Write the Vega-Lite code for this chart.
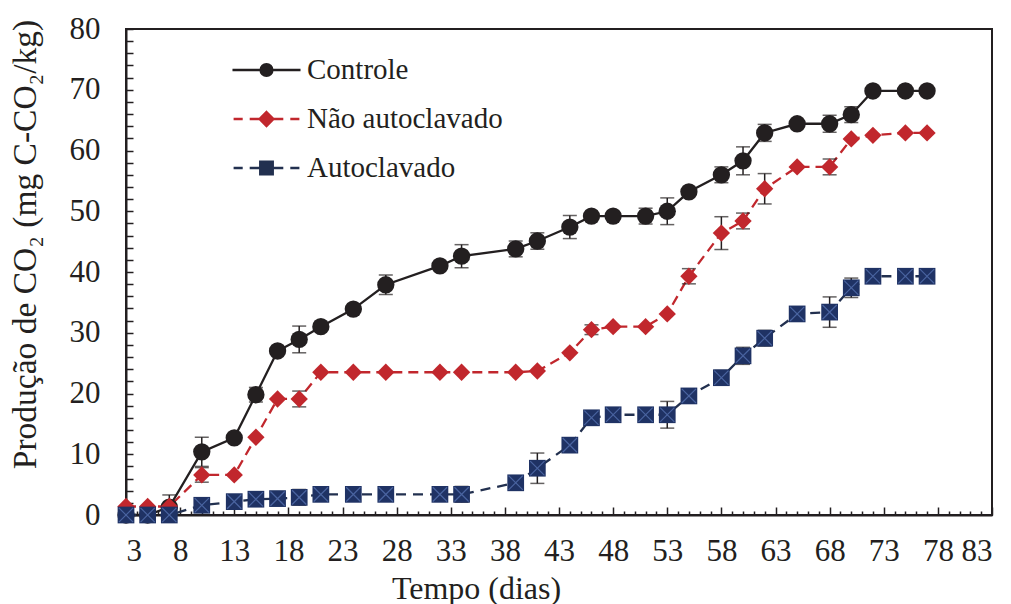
{
  "$schema": "https://vega.github.io/schema/vega-lite/v6.json",
  "autosize": "none",
  "width": 866,
  "height": 486,
  "padding": {"left": 126, "top": 29, "right": 18, "bottom": 89},
  "background": "white",
  "config": {
    "view": {"stroke": "#231f20", "strokeWidth": 2},
    "font": "Liberation Serif",
    "legend": {"labelFont": "Liberation Serif", "labelColor": "#231f20", "padding": 0},
    "axis": {
      "domainColor": "#231f20", "domainWidth": 2,
      "tickColor": "#231f20", "tickWidth": 1.5,
      "grid": false,
      "labelFont": "Liberation Serif", "labelFontSize": 31, "labelColor": "#231f20",
      "titleFont": "Liberation Serif", "titleFontSize": 32, "titleColor": "#231f20", "titleFontWeight": "normal",
      "labelOverlap": false
    }
  },
  "data": {"values": [
    {"series": "Controle", "day": 3, "value": 0},
    {"series": "Controle", "day": 5, "value": 0},
    {"series": "Controle", "day": 7, "value": 1.3, "err": 2.0},
    {"series": "Controle", "day": 10, "value": 10.4, "err": 2.4},
    {"series": "Controle", "day": 13, "value": 12.7},
    {"series": "Controle", "day": 15, "value": 19.8, "err": 1.2},
    {"series": "Controle", "day": 17, "value": 27.0},
    {"series": "Controle", "day": 19, "value": 28.9, "err": 2.2},
    {"series": "Controle", "day": 21, "value": 31.0},
    {"series": "Controle", "day": 24, "value": 33.9},
    {"series": "Controle", "day": 27, "value": 37.9, "err": 1.6},
    {"series": "Controle", "day": 32, "value": 41.0},
    {"series": "Controle", "day": 34, "value": 42.6, "err": 1.9},
    {"series": "Controle", "day": 39, "value": 43.8, "err": 1.3},
    {"series": "Controle", "day": 41, "value": 45.1, "err": 1.35},
    {"series": "Controle", "day": 44, "value": 47.4, "err": 1.9},
    {"series": "Controle", "day": 46, "value": 49.2},
    {"series": "Controle", "day": 48, "value": 49.2},
    {"series": "Controle", "day": 51, "value": 49.2, "err": 1.3},
    {"series": "Controle", "day": 53, "value": 50.0, "err": 2.2},
    {"series": "Controle", "day": 55, "value": 53.2},
    {"series": "Controle", "day": 58, "value": 56.0, "err": 1.3},
    {"series": "Controle", "day": 60, "value": 58.3, "err": 2.3},
    {"series": "Controle", "day": 62, "value": 62.9, "err": 1.4},
    {"series": "Controle", "day": 65, "value": 64.4},
    {"series": "Controle", "day": 68, "value": 64.4, "err": 1.4},
    {"series": "Controle", "day": 70, "value": 65.9, "err": 1.3},
    {"series": "Controle", "day": 72, "value": 69.8},
    {"series": "Controle", "day": 75, "value": 69.8},
    {"series": "Controle", "day": 77, "value": 69.8},
    {"series": "Não autoclavado", "day": 3, "value": 1.4},
    {"series": "Não autoclavado", "day": 5, "value": 1.4},
    {"series": "Não autoclavado", "day": 7, "value": 1.4},
    {"series": "Não autoclavado", "day": 10, "value": 6.6, "err": 1.2},
    {"series": "Não autoclavado", "day": 13, "value": 6.6},
    {"series": "Não autoclavado", "day": 15, "value": 12.8},
    {"series": "Não autoclavado", "day": 17, "value": 19.1},
    {"series": "Não autoclavado", "day": 19, "value": 19.1, "err": 1.3},
    {"series": "Não autoclavado", "day": 21, "value": 23.5},
    {"series": "Não autoclavado", "day": 24, "value": 23.5},
    {"series": "Não autoclavado", "day": 27, "value": 23.5},
    {"series": "Não autoclavado", "day": 32, "value": 23.5},
    {"series": "Não autoclavado", "day": 34, "value": 23.5},
    {"series": "Não autoclavado", "day": 39, "value": 23.5},
    {"series": "Não autoclavado", "day": 41, "value": 23.7},
    {"series": "Não autoclavado", "day": 44, "value": 26.7},
    {"series": "Não autoclavado", "day": 46, "value": 30.5, "err": 0.8},
    {"series": "Não autoclavado", "day": 48, "value": 31.0},
    {"series": "Não autoclavado", "day": 51, "value": 31.0},
    {"series": "Não autoclavado", "day": 53, "value": 33.1},
    {"series": "Não autoclavado", "day": 55, "value": 39.3, "err": 1.25},
    {"series": "Não autoclavado", "day": 58, "value": 46.4, "err": 2.7},
    {"series": "Não autoclavado", "day": 60, "value": 48.4, "err": 1.3},
    {"series": "Não autoclavado", "day": 62, "value": 53.7, "err": 2.5},
    {"series": "Não autoclavado", "day": 65, "value": 57.3},
    {"series": "Não autoclavado", "day": 68, "value": 57.3, "err": 1.3},
    {"series": "Não autoclavado", "day": 70, "value": 61.9},
    {"series": "Não autoclavado", "day": 72, "value": 62.5},
    {"series": "Não autoclavado", "day": 75, "value": 62.9},
    {"series": "Não autoclavado", "day": 77, "value": 62.9},
    {"series": "Autoclavado", "day": 3, "value": 0},
    {"series": "Autoclavado", "day": 5, "value": 0},
    {"series": "Autoclavado", "day": 7, "value": 0},
    {"series": "Autoclavado", "day": 10, "value": 1.6},
    {"series": "Autoclavado", "day": 13, "value": 2.2, "err": 1.0},
    {"series": "Autoclavado", "day": 15, "value": 2.6},
    {"series": "Autoclavado", "day": 17, "value": 2.7},
    {"series": "Autoclavado", "day": 19, "value": 2.9, "err": 1.3},
    {"series": "Autoclavado", "day": 21, "value": 3.4},
    {"series": "Autoclavado", "day": 24, "value": 3.4},
    {"series": "Autoclavado", "day": 27, "value": 3.4},
    {"series": "Autoclavado", "day": 32, "value": 3.4},
    {"series": "Autoclavado", "day": 34, "value": 3.4, "err": 1.3},
    {"series": "Autoclavado", "day": 39, "value": 5.3},
    {"series": "Autoclavado", "day": 41, "value": 7.7, "err": 2.5},
    {"series": "Autoclavado", "day": 44, "value": 11.5, "err": 1.0},
    {"series": "Autoclavado", "day": 46, "value": 16.0},
    {"series": "Autoclavado", "day": 48, "value": 16.5},
    {"series": "Autoclavado", "day": 51, "value": 16.5},
    {"series": "Autoclavado", "day": 53, "value": 16.5, "err": 2.2},
    {"series": "Autoclavado", "day": 55, "value": 19.6},
    {"series": "Autoclavado", "day": 58, "value": 22.6, "err": 1.2},
    {"series": "Autoclavado", "day": 60, "value": 26.2, "err": 1.4},
    {"series": "Autoclavado", "day": 62, "value": 29.1, "err": 1.3},
    {"series": "Autoclavado", "day": 65, "value": 33.1},
    {"series": "Autoclavado", "day": 68, "value": 33.4, "err": 2.5},
    {"series": "Autoclavado", "day": 70, "value": 37.4, "err": 1.6},
    {"series": "Autoclavado", "day": 72, "value": 39.3},
    {"series": "Autoclavado", "day": 75, "value": 39.3},
    {"series": "Autoclavado", "day": 77, "value": 39.3}
  ]},
  "encoding": {
    "x": {
      "field": "day", "type": "quantitative",
      "scale": {"domain": [3, 83], "nice": false, "zero": false},
      "axis": {
        "title": "Tempo (dias)",
        "values": [3,4,5,6,7,8,9,10,11,12,13,14,15,16,17,18,19,20,21,22,23,24,25,26,27,28,29,30,31,32,33,34,35,36,37,38,39,40,41,42,43,44,45,46,47,48,49,50,51,52,53,54,55,56,57,58,59,60,61,62,63,64,65,66,67,68,69,70,71,72,73,74,75,76,77,78,79,80,81,82,83],
        "labelExpr": "(datum.value - 3) % 5 === 0 ? datum.label : ''",
        "tickSize": {"condition": {"test": "(datum.value - 3) % 5 === 0", "value": -8}, "value": -4},
        "labelPadding": 44,
        "labelBaseline": "middle",
        "titleX": 350, "titleY": 73, "titleBaseline": "middle"
      }
    },
    "y": {
      "field": "value", "type": "quantitative",
      "scale": {"domain": [0, 80], "nice": false},
      "axis": {
        "title": "Produção de CO₂ (mg C-CO₂/kg)",
        "titleFontSize": 33.5,
        "values": [0,2,4,6,8,10,12,14,16,18,20,22,24,26,28,30,32,34,36,38,40,42,44,46,48,50,52,54,56,58,60,62,64,66,68,70,72,74,76,78,80],
        "labelExpr": "datum.value % 10 === 0 ? datum.label : ''",
        "tickSize": -7,
        "labelPadding": 33,
        "titleX": -101, "titleY": 215, "titleBaseline": "middle"
      }
    }
  },
  "layer": [
    {
      "transform": [{"filter": "datum.series === 'Controle'"}],
      "mark": {"type": "line", "strokeWidth": 2.3, "stroke": "#231f20"},
      "encoding": {}
    },
    {
      "transform": [{"filter": "datum.series === 'Não autoclavado'"}],
      "mark": {"type": "line", "strokeWidth": 2.3, "stroke": "#c1272d", "strokeDash": [10, 6]},
      "encoding": {}
    },
    {
      "transform": [{"filter": "datum.series === 'Autoclavado'"}],
      "mark": {"type": "line", "strokeWidth": 2.3, "stroke": "#22304f", "strokeDash": [10, 7]},
      "encoding": {}
    },
    {
      "transform": [{"filter": "datum.err > 0"}],
      "mark": {"type": "errorbar", "color": "#231f20", "thickness": 1.5, "ticks": {"size": 14, "thickness": 1.5, "color": "#231f20"}},
      "encoding": {
        "yError": {"field": "err"}
      }
    },
    {
      "transform": [{"filter": "datum.series === 'Controle'"}],
      "mark": {"type": "point", "filled": true, "opacity": 1, "shape": "circle", "size": 300, "fill": "#231f20"}
    },
    {
      "transform": [{"filter": "datum.series === 'Não autoclavado'"}],
      "mark": {"type": "point", "filled": true, "opacity": 1, "shape": "diamond", "size": 300, "fill": "#c1272d"}
    },
    {
      "transform": [{"filter": "datum.series === 'Autoclavado'"}],
      "mark": {"type": "point", "filled": true, "opacity": 1, "shape": "square", "size": 280, "fill": "#1f3264"}
    },
    {
      "transform": [{"filter": "datum.series === 'Autoclavado'"}],
      "mark": {"type": "point", "filled": false, "shape": "M-0.85,-0.85L0.85,0.85M0.85,-0.85L-0.85,0.85", "size": 280, "stroke": "#4a64a0", "strokeWidth": 1.2, "opacity": 1}
    },
    {
      "transform": [{"filter": "datum.day < 0"}],
      "mark": {"type": "point", "filled": false, "size": 196, "opacity": 1, "strokeWidth": 2.3},
      "encoding": {
        "color": {"field": "series", "type": "nominal",
          "scale": {"domain": ["Controle", "Não autoclavado", "Autoclavado"], "range": ["#231f20", "#c1272d", "#22304f"]},
          "legend": {
            "orient": "none", "legendX": 126, "legendY": 26.5, "title": null, "padding": 0,
            "symbolOffset": 0, "labelOffset": 26, "rowPadding": 19,
            "labelFont": "Liberation Serif", "labelFontSize": 29, "labelColor": "#231f20", "labelLimit": 400,
            "symbolSize": 196, "symbolStrokeWidth": 2.3, "symbolOpacity": 1
          }},
        "shape": {"field": "series", "type": "nominal",
          "scale": {"domain": ["Controle", "Não autoclavado", "Autoclavado"], "range": [
            "M-4.86,0H4.86M-0.85,0A0.85,0.85 0 1,1 0.85,0A0.85,0.85 0 1,1 -0.85,0ZM-0.55,0A0.55,0.55 0 1,1 0.55,0A0.55,0.55 0 1,1 -0.55,0ZM-0.25,0A0.25,0.25 0 1,1 0.25,0A0.25,0.25 0 1,1 -0.25,0Z",
            "M-4.7,0H-3.4M-2.4,0H-1M1,0H2.4M3.4,0H4.7M0,-1L1,0L0,1L-1,0ZM0,-0.72L0.72,0L0,0.72L-0.72,0ZM0,-0.44L0.44,0L0,0.44L-0.44,0ZM0,-0.16L0.16,0L0,0.16L-0.16,0Z",
            "M-4.7,0H-3.4M-2.4,0H-1M1,0H2.4M3.4,0H4.7M-0.9,-0.9H0.9V0.9H-0.9ZM-0.6,-0.6H0.6V0.6H-0.6ZM-0.3,-0.3H0.3V0.3H-0.3ZM-0.05,-0.05H0.05V0.05H-0.05Z"
          ]},
          "legend": {
            "orient": "none", "legendX": 126, "legendY": 26.5, "title": null, "padding": 0,
            "symbolOffset": 0, "labelOffset": 26, "rowPadding": 19,
            "labelFont": "Liberation Serif", "labelFontSize": 29, "labelColor": "#231f20", "labelLimit": 400,
            "symbolSize": 196, "symbolStrokeWidth": 2.3, "symbolOpacity": 1
          }}
      }
    }
  ]
}
